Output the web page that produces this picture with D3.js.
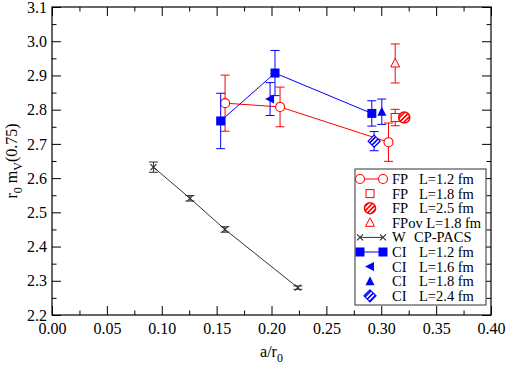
<!DOCTYPE html>
<html>
<head>
<meta charset="utf-8">
<script src="https://cdn.jsdelivr.net/npm/d3@7"></script>
<style>
  body { margin: 0; background: #fff; }
  svg text { font-family: "Liberation Serif", "DejaVu Serif", serif !important; }
</style>
</head>
<body>
<svg width="507" height="366"></svg>
<script>
// data
const fp12X = [0.1577, 0.2078, 0.3066];
const fp12Y = [2.819, 2.808, 2.705];
const fp12Err = [0.082, 0.058, 0.056];

const fp18X = [0.3127];
const fp18Y = [2.777];
const fp18Err = [0.024];

const fp25X = [0.3210];
const fp25Y = [2.777];
const fp25Err = [0.010];

const fpov18X = [0.3127];
const fpov18Y = [2.935];
const fpov18Err = [0.057];

const wX = [0.0924, 0.1257, 0.1576, 0.2240];
const wY = [2.632, 2.541, 2.450, 2.280];
const wErr = [0.015, 0.008, 0.008, 0.005];

const ci12X = [0.1537, 0.2032, 0.2914];
const ci12Y = [2.767, 2.907, 2.789];
const ci12Err = [0.081, 0.066, 0.037];

const ci16X = [0.1987];
const ci16Y = [2.831];
const ci16Err = [0.048];

const ci18X = [0.3005];
const ci18Y = [2.794];
const ci18Err = [0.037];

const ci24X = [0.2935];
const ci24Y = [2.708];
const ci24Err = [0.028];

const xTicks = [0, 0.05, 0.1, 0.15, 0.2, 0.25, 0.3, 0.35, 0.4];
const yTicks = [2.2, 2.3, 2.4, 2.5, 2.6, 2.7, 2.8, 2.9, 3.0, 3.1];

const legendLabels = [
  ["FP", "L=1.2 fm"],
  ["FP", "L=1.8 fm"],
  ["FP", "L=2.5 fm"],
  ["FPov L=1.8 fm", ""],
  ["W", "CP-PACS"],
  ["CI", "L=1.2 fm"],
  ["CI", "L=1.6 fm"],
  ["CI", "L=1.8 fm"],
  ["CI", "L=2.4 fm"]
];

const svg = d3.select("svg");
const red = "#ff0000";
const blue = "#0000ff";
const serif = "Liberation Serif, DejaVu Serif, serif";

const plotLeft = 52, plotRight = 491, plotTop = 7, plotBottom = 315;

const x = d3.scaleLinear().domain([0, 0.4]).range([plotLeft, plotRight]);
const y = d3.scaleLinear().domain([2.2, 3.1]).range([plotBottom, plotTop]);

// hatch patterns
const defs = svg.append("defs");
function hatch(id, color, bg) {
  const p = defs.append("pattern")
      .attr("id", id)
      .attr("patternUnits", "userSpaceOnUse")
      .attr("width", 3.2)
      .attr("height", 3.2)
      .attr("patternTransform", "rotate(45)");
  p.append("rect").attr("width", 3.2).attr("height", 3.2).attr("fill", bg);
  p.append("rect").attr("width", 1.6).attr("height", 3.2).attr("fill", color);
}
hatch("hatchRed", red, "#fff");
hatch("hatchBlue", blue, "#fff");

// axes: ticks point inward, on all four sides
const fmt = d3.format(".2f");
const xMinor = d3.range(0.025, 0.4, 0.05);
const yMinor = d3.range(2.25, 3.1, 0.1);
const noDomain = g => g.attr("font-family", serif).select(".domain").remove();

svg.append("g")
    .attr("transform", `translate(0,${plotBottom})`)
    .call(d3.axisBottom(x).tickValues(xTicks).tickFormat(fmt).tickSize(-9).tickPadding(8))
    .call(noDomain);
svg.append("g")
    .attr("transform", `translate(0,${plotBottom})`)
    .call(d3.axisBottom(x).tickValues(xMinor).tickFormat("").tickSize(-4.5))
    .call(noDomain);
svg.append("g")
    .attr("transform", `translate(0,${plotTop})`)
    .call(d3.axisTop(x).tickValues(xTicks).tickFormat("").tickSize(-9))
    .call(noDomain);
svg.append("g")
    .attr("transform", `translate(0,${plotTop})`)
    .call(d3.axisTop(x).tickValues(xMinor).tickFormat("").tickSize(-4.5))
    .call(noDomain);

svg.append("g")
    .attr("transform", `translate(${plotLeft},0)`)
    .call(d3.axisLeft(y).tickValues(yTicks).tickFormat(d3.format(".1f")).tickSize(-9).tickPadding(5))
    .call(noDomain);
svg.append("g")
    .attr("transform", `translate(${plotLeft},0)`)
    .call(d3.axisLeft(y).tickValues(yMinor).tickFormat("").tickSize(-4.5))
    .call(noDomain);
svg.append("g")
    .attr("transform", `translate(${plotRight},0)`)
    .call(d3.axisRight(y).tickValues(yTicks).tickFormat("").tickSize(-9))
    .call(noDomain);
svg.append("g")
    .attr("transform", `translate(${plotRight},0)`)
    .call(d3.axisRight(y).tickValues(yMinor).tickFormat("").tickSize(-4.5))
    .call(noDomain);

svg.selectAll(".tick text")
    .attr("font-size", 16)
    .attr("fill", "#000");
svg.selectAll(".tick line").attr("stroke", "#000");

svg.append("rect")
    .attr("x", plotLeft)
    .attr("y", plotTop)
    .attr("width", plotRight - plotLeft)
    .attr("height", plotBottom - plotTop)
    .attr("fill", "none")
    .attr("stroke", "#000")
    .attr("stroke-width", 1.2);

// axis titles
const xt = svg.append("text")
    .attr("x", x(0.2))
    .attr("y", 357)
    .attr("text-anchor", "middle")
    .attr("font-family", serif)
    .attr("font-size", 16);
xt.append("tspan").text("a/r");
xt.append("tspan").attr("dy", 5).attr("font-size", 12).text("0");

const yt = svg.append("text")
    .attr("transform", `translate(17,${y(2.65)}) rotate(-90)`)
    .attr("text-anchor", "middle")
    .attr("font-family", serif)
    .attr("font-size", 16);
yt.append("tspan").text("r");
yt.append("tspan").attr("dy", 5).attr("font-size", 12).text("0");
yt.append("tspan").attr("dy", -5).text(" m");
yt.append("tspan").attr("dy", 5).attr("font-size", 12).text("V");
yt.append("tspan").attr("dy", -5).text("(0.75)");

// helpers
const zip = (xs, ys, es) => xs.map((d, i) => ({ x: d, y: ys[i], e: es[i] }));
const line = d3.line().x(d => x(d.x)).y(d => y(d.y));

function errorBars(data, color) {
  const g = svg.append("g").attr("stroke", color).attr("stroke-width", 1);
  data.forEach(d => {
    const cx = x(d.x), y1 = y(d.y + d.e), y2 = y(d.y - d.e);
    g.append("line").attr("x1", cx).attr("x2", cx).attr("y1", y1).attr("y2", y2);
    g.append("line").attr("x1", cx - 4.5).attr("x2", cx + 4.5).attr("y1", y1).attr("y2", y1);
    g.append("line").attr("x1", cx - 4.5).attr("x2", cx + 4.5).attr("y1", y2).attr("y2", y2);
  });
}

function drawMarker(g, type, cx, cy) {
  if (type === "openCircle") {
    g.append("circle").attr("cx", cx).attr("cy", cy).attr("r", 4.5)
        .attr("fill", "#fff").attr("stroke", red).attr("stroke-width", 1.1);
  } else if (type === "openSquare") {
    g.append("rect").attr("x", cx - 4).attr("y", cy - 4).attr("width", 8).attr("height", 8)
        .attr("fill", "#fff").attr("stroke", red).attr("stroke-width", 1);
  } else if (type === "hatchCircle") {
    g.append("circle").attr("cx", cx).attr("cy", cy).attr("r", 5.5)
        .attr("fill", "url(#hatchRed)").attr("stroke", red).attr("stroke-width", 1.5);
  } else if (type === "openTriangle") {
    g.append("path").attr("d", `M${cx},${cy - 5}L${cx + 4.5},${cy + 3.5}L${cx - 4.5},${cy + 3.5}Z`)
        .attr("fill", "#fff").attr("stroke", red).attr("stroke-width", 1);
  } else if (type === "cross") {
    g.append("path").attr("d", `M${cx - 3},${cy - 3}L${cx + 3},${cy + 3}M${cx - 3},${cy + 3}L${cx + 3},${cy - 3}`)
        .attr("stroke", "#333").attr("stroke-width", 1.2);
  } else if (type === "square") {
    g.append("rect").attr("x", cx - 4.5).attr("y", cy - 4.5).attr("width", 9).attr("height", 9)
        .attr("fill", blue);
  } else if (type === "leftTriangle") {
    g.append("path").attr("d", `M${cx - 5},${cy}L${cx + 4},${cy - 4.5}L${cx + 4},${cy + 4.5}Z`)
        .attr("fill", blue);
  } else if (type === "upTriangle") {
    g.append("path").attr("d", `M${cx},${cy - 5}L${cx + 4.5},${cy + 4}L${cx - 4.5},${cy + 4}Z`)
        .attr("fill", blue);
  } else if (type === "hatchDiamond") {
    g.append("path").attr("d", `M${cx},${cy - 6}L${cx + 6},${cy}L${cx},${cy + 6}L${cx - 6},${cy}Z`)
        .attr("fill", "url(#hatchBlue)").attr("stroke", blue).attr("stroke-width", 1.2);
  }
}

function series(data, color, marker, withLine) {
  if (withLine) {
    svg.append("path").datum(data).attr("d", line)
        .attr("fill", "none").attr("stroke", color).attr("stroke-width", 1);
  }
  errorBars(data, color);
  const g = svg.append("g");
  data.forEach(d => drawMarker(g, marker, x(d.x), y(d.y)));
}

series(zip(wX, wY, wErr), "#333", "cross", true);
series(zip(fp12X, fp12Y, fp12Err), red, "openCircle", true);
series(zip(ci12X, ci12Y, ci12Err), blue, "square", true);
series(zip(ci16X, ci16Y, ci16Err), blue, "leftTriangle", false);
series(zip(ci18X, ci18Y, ci18Err), blue, "upTriangle", false);
series(zip(ci24X, ci24Y, ci24Err), blue, "hatchDiamond", false);
series(zip(fp18X, fp18Y, fp18Err), red, "openSquare", false);
series(zip(fp25X, fp25Y, fp25Err), red, "hatchCircle", false);
series(zip(fpov18X, fpov18Y, fpov18Err), red, "openTriangle", false);

// legend
const legendMarkers = [
  ["openCircle", red, true], ["openSquare", red, false], ["hatchCircle", red, false],
  ["openTriangle", red, false], ["cross", "#333", true], ["square", blue, true],
  ["leftTriangle", blue, false], ["upTriangle", blue, false], ["hatchDiamond", blue, false]
];

const lg = svg.append("g").attr("font-family", serif);
lg.append("rect")
    .attr("x", 355).attr("y", 169)
    .attr("width", 131).attr("height", 136)
    .attr("fill", "#fff").attr("stroke", "#333").attr("stroke-width", 1);

legendLabels.forEach((lab, i) => {
  const cy = 179 + i * 14.6;
  const [type, color, withLine] = legendMarkers[i];
  if (withLine) {
    lg.append("line").attr("x1", 360).attr("x2", 383).attr("y1", cy).attr("y2", cy)
        .attr("stroke", color).attr("stroke-width", 1);
    drawMarker(lg, type, 360, cy);
    drawMarker(lg, type, 383, cy);
  } else {
    drawMarker(lg, type, 370, cy);
  }
  lg.append("text").attr("x", 392).attr("y", cy + 5).attr("font-size", 14.5).text(lab[0]);
  if (lab[1]) {
    lg.append("text").attr("x", lab[0] === "W" ? 414 : 419).attr("y", cy + 5)
        .attr("font-size", 14.5).text(lab[1]);
  }
});
</script>
</body>
</html>
